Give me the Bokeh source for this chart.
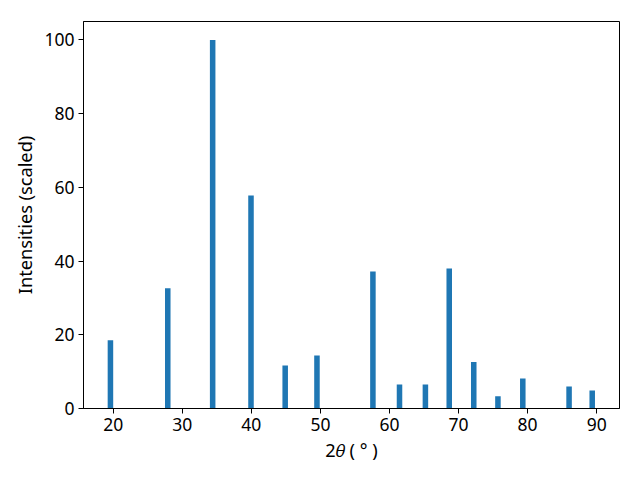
from bokeh.plotting import figure
from bokeh.models import Range1d, FixedTicker, ColumnDataSource
from bokeh.embed import file_html
from bokeh.resources import INLINE

two_theta = [19.6, 27.9, 34.4, 39.95, 44.9, 49.5, 57.6, 61.45, 65.2, 68.65, 72.2, 75.7, 79.3, 86.0, 89.35]
intensity = [18.5, 32.6, 100.0, 57.8, 11.7, 14.4, 37.2, 6.5, 6.5, 38.0, 12.6, 3.3, 8.15, 6.0, 4.9]
x_ticks = [20, 30, 40, 50, 60, 70, 80, 90]
y_ticks = [0, 20, 40, 60, 80, 100]

src = ColumnDataSource(dict(x=two_theta, top=intensity))

p = figure(width=624, height=464, output_backend="svg", toolbar_location=None,
           x_range=Range1d(15.7, 93.3), y_range=Range1d(0, 105),
           min_border_left=83, min_border_right=5, min_border_top=21, min_border_bottom=55)
p.vbar(x="x", top="top", width=0.8, source=src, color="#1f77b4", line_width=0)

p.xgrid.visible = False
p.ygrid.visible = False
p.outline_line_color = "black"
p.outline_line_width = 1
p.outline_line_alpha = 1

p.xaxis.ticker = FixedTicker(ticks=x_ticks)
p.yaxis.ticker = FixedTicker(ticks=y_ticks)
for ax in (p.xaxis, p.yaxis):
    ax.minor_tick_line_color = None
    ax.major_tick_in = 0
    ax.major_tick_out = 5
    ax.major_tick_line_color = "black"
    ax.axis_line_color = "black"
    ax.major_label_text_font = "Noto Sans"
    ax.major_label_text_font_size = "17.5px"
    ax.major_label_text_color = "black"
    ax.axis_label_text_font = "Noto Sans"
    ax.axis_label_text_font_size = "18.2px"
    ax.axis_label_text_font_style = "normal"
    ax.axis_label_text_color = "black"
    ax.major_label_standoff = 4

p.xaxis.axis_label = "2𝜃 ( ° )"
p.yaxis.axis_label = "Intensities (scaled)"
p.xaxis.axis_label_standoff = 4
p.yaxis.axis_label_standoff = 4

open("out.html", "w").write(file_html(p, INLINE))
